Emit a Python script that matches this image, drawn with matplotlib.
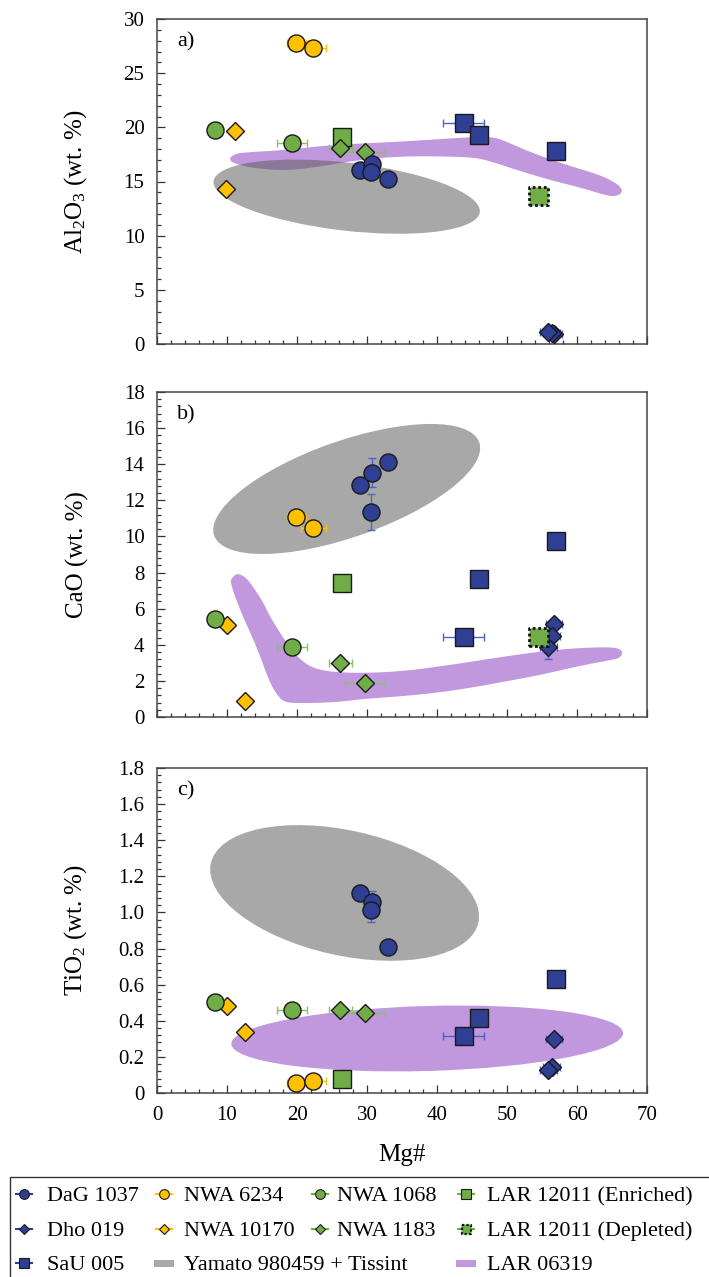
import numpy as np
import matplotlib
matplotlib.use("Agg")
import matplotlib.pyplot as plt
from matplotlib.patches import Ellipse, Polygon, Rectangle
from matplotlib.lines import Line2D
from matplotlib.transforms import ScaledTranslation
from matplotlib.ticker import MultipleLocator, FuncFormatter

plt.rcParams['font.family'] = ['Liberation Serif', 'DejaVu Serif']
plt.rcParams['mathtext.fontset'] = 'custom'
plt.rcParams['mathtext.rm'] = 'Liberation Serif'
plt.rcParams['mathtext.it'] = 'Liberation Serif:italic'
plt.rcParams['mathtext.bf'] = 'Liberation Serif:bold'

# ---------------- sample data: Mg# and oxides (wt. %) ----------------
dag_mg = [29.0, 30.7, 30.6, 33.0]
dag_al = [16.03, 16.58, 15.88, 15.23]
dag_ca = [12.83, 13.53, 11.35, 14.14]
dag_ti = [1.109, 1.056, 1.012, 0.81]
dag_ca_err = [0.0, 0.8, 1.0, 0.0]
dag_ti_err = [0.0, 0.065, 0.065, 0.0]

dho_mg = [56.7, 56.4, 55.9]
dho_mg_err = [1.2, 1.2, 1.2]
dho_al = [0.95, 1.05, 1.14]
dho_ca = [5.17, 4.48, 3.86]
dho_ti = [0.297, 0.146, 0.127]
dho_ca_err = [0.0, 0.0, 0.65]
dho_ti_err = [0.0, 0.03, 0.03]

sau_mg = [43.8, 46.0, 57.0]
sau_mg_err = [2.9, 0.0, 0.0]
sau_al = [20.37, 19.29, 17.85]
sau_ca = [4.45, 7.62, 9.75]
sau_ti = [0.316, 0.415, 0.63]

nwa6234_mg = [19.9, 22.3]
nwa6234_mg_err = [1.35, 1.8]
nwa6234_al = [27.75, 27.36]
nwa6234_ca = [11.06, 10.48]
nwa6234_ti = [0.057, 0.066]

nwa10170_mg_al = [11.1, 9.9]
nwa10170_al = [19.66, 14.28]
nwa10170_mg = [10.0, 12.6]
nwa10170_ca = [5.09, 0.90]
nwa10170_ti = [0.482, 0.34]

nwa1068_mg = [8.3, 19.3]
nwa1068_mg_err = [0.0, 2.1]
nwa1068_al = [19.75, 18.58]
nwa1068_ca = [5.43, 3.89]
nwa1068_ti = [0.504, 0.458]

nwa1183_mg = [26.2, 29.7]
nwa1183_mg_err = [1.6, 2.9]
nwa1183_al = [18.12, 17.75]
nwa1183_ca = [3.01, 1.86]
nwa1183_ti = [0.458, 0.441]

lar_enr_mg = [26.4]
lar_enr_al = [19.14]
lar_enr_ca = [7.44]
lar_enr_ti = [0.079]

lar_dep_mg = [54.5]
lar_dep_al = [13.63]
lar_dep_ca = [4.45]

# ---------------- compositional fields ----------------
# Yamato 980459 + Tissint: (centre Mg#, centre oxide, width px, height px, tilt deg)
yamato_al = (27.1, 13.6, 268, 68, -6.6)
yamato_ca = (27.1, 12.63, 281, 96, 19.4)
yamato_ti = (26.8, 1.108, 274, 125, -12.5)
# LAR 06319 in TiO2 space
lar06319_ti = (38.6, 0.302, 392, 65, 1.6)
# LAR 06319 outlines in Al2O3 and CaO space
lar06319_al_mg = [10.29, 10.9, 11.86, 18.53, 24.71, 34.71, 44.24, 48.04, 50.43, 53.76,
                  58.53, 63.29, 65.67, 66.53, 66.14, 64.71, 60.9, 56.14, 51.39, 47.1,
                  44.24, 34.71, 28.04, 23.29, 18.53, 13.76, 10.9]
lar06319_al_ox = [17.08, 17.45, 17.66, 17.91, 18.37, 18.67, 19.08, 19.14, 18.53, 17.60,
                  16.52, 15.60, 14.83, 14.22, 13.75, 13.60, 14.37, 15.14, 16.06, 16.99,
                  17.29, 17.35, 16.92, 16.37, 16.0, 16.22, 16.68]
lar06319_ca_mg = [10.71, 11.39, 12.29, 13.0, 13.71, 15.0, 16.14, 18.53, 20.43, 22.81,
                  27.57, 34.71, 41.86, 49.8, 54.9, 60.0, 64.5, 66.0, 66.6, 66.0, 65.0,
                  60.0, 54.9, 49.8, 44.7, 39.7, 34.6, 29.5, 25.1, 19.24, 18.0, 17.29,
                  16.14, 14.24, 11.86, 10.43]
lar06319_ca_ox = [7.70, 7.95, 7.83, 7.59, 7.21, 6.48, 5.55, 4.08, 3.16, 2.60,
                  2.42, 2.51, 2.88, 3.36, 3.63, 3.82, 3.87, 3.80, 3.55, 3.25, 3.17,
                  2.80, 2.34, 1.97, 1.61, 1.33, 1.14, 1.00, 0.80, 0.76, 0.89, 1.16,
                  1.87, 3.89, 5.92, 7.48]

# ---------------- styles ----------------
BLUE, YELLOW, GREEN = '#2F3F94', '#FFC000', '#70AD47'
BLUE_ERR, YELLOW_ERR, GREEN_ERR = '#5064C8', '#FFC000', '#86C266'
EDGE = '#1A1A1A'
GRAY_FILL, GRAY_ALPHA = '#5B5B5B', 0.525
GRAY_LEG = '#A9A9A9'
PURPLE = '#C197DD'
MS = {'o': 12.3, 's': 13.0, 'D': 9.0}

W, H = 709, 1277
fig = plt.figure(figsize=(W / 100, H / 100), dpi=100)
ax_left, ax_right = 157, 647
panel_tb = [(19, 344), (392, 717), (768, 1093)]
axes = [fig.add_axes([ax_left / W, 1 - b / H, (ax_right - ax_left) / W, (b - t) / H])
        for t, b in panel_tb]


def smooth(xs, ys, n=2):
    pts = np.column_stack([xs, ys]).astype(float)
    for _ in range(n):
        nxt = np.roll(pts, -1, axis=0)
        q = 0.75 * pts + 0.25 * nxt
        r = 0.25 * pts + 0.75 * nxt
        pts = np.empty((2 * len(q), 2))
        pts[0::2], pts[1::2] = q, r
    return pts


def field_ellipse(ax, spec, **kw):
    cx, cy, w, h, ang = spec
    trans = fig.dpi_scale_trans + ScaledTranslation(cx, cy, ax.transData)
    ax.add_patch(Ellipse((0, 0), w / fig.dpi, h / fig.dpi, angle=ang,
                         transform=trans, **kw))


def field_outline(ax, xs, ys, **kw):
    ax.add_patch(Polygon(smooth(xs, ys), closed=True, **kw))


def series(ax, x, y, marker, color, ecolor, xerr=None, yerr=None, z=5):
    if xerr is not None or yerr is not None:
        ax.errorbar(x, y, xerr=xerr, yerr=yerr, fmt='none', ecolor=ecolor,
                    elinewidth=1.0, capsize=2.8, capthick=1.0, zorder=z - 0.5)
    ax.plot(x, y, ls='none', marker=marker, ms=MS[marker], mfc=color, mec=EDGE,
            mew=1.0, zorder=z)


def depleted(ax, x, y, z=5):
    ax.scatter(x, y, marker='s', s=MS['s'] ** 2, c=GREEN, edgecolors='#111111',
               linewidths=2.0, linestyle=(0, (1, 1)), zorder=z)


ax_a, ax_b, ax_c = axes
for ax in axes:
    ax.set_xlim(0, 70)

ax_a.set_ylim(0, 30)
ax_b.set_ylim(0, 18)
ax_c.set_ylim(0, 1.8)

# fields
field_outline(ax_a, lar06319_al_mg, lar06319_al_ox, fc=PURPLE, ec='none', zorder=1)
field_ellipse(ax_a, yamato_al, fc=GRAY_FILL, ec='none', alpha=GRAY_ALPHA, zorder=2)
field_outline(ax_b, lar06319_ca_mg, lar06319_ca_ox, fc=PURPLE, ec='none', zorder=1)
field_ellipse(ax_b, yamato_ca, fc=GRAY_FILL, ec='none', alpha=GRAY_ALPHA, zorder=2)
field_ellipse(ax_c, lar06319_ti, fc=PURPLE, ec='none', zorder=1)
field_ellipse(ax_c, yamato_ti, fc=GRAY_FILL, ec='none', alpha=GRAY_ALPHA, zorder=2)

# panel a: Al2O3
series(ax_a, lar_enr_mg, lar_enr_al, 's', GREEN, GREEN_ERR)
series(ax_a, nwa10170_mg_al, nwa10170_al, 'D', YELLOW, YELLOW_ERR)
series(ax_a, nwa1068_mg, nwa1068_al, 'o', GREEN, GREEN_ERR, xerr=nwa1068_mg_err)
series(ax_a, nwa6234_mg, nwa6234_al, 'o', YELLOW, YELLOW_ERR, xerr=nwa6234_mg_err)
series(ax_a, nwa1183_mg, nwa1183_al, 'D', GREEN, GREEN_ERR, xerr=nwa1183_mg_err)
series(ax_a, sau_mg, sau_al, 's', BLUE, BLUE_ERR, xerr=sau_mg_err)
series(ax_a, dho_mg, dho_al, 'D', BLUE, BLUE_ERR, xerr=dho_mg_err)
series(ax_a, dag_mg, dag_al, 'o', BLUE, BLUE_ERR)
depleted(ax_a, lar_dep_mg, lar_dep_al)

# panel b: CaO
series(ax_b, lar_enr_mg, lar_enr_ca, 's', GREEN, GREEN_ERR)
series(ax_b, nwa10170_mg, nwa10170_ca, 'D', YELLOW, YELLOW_ERR)
series(ax_b, nwa1068_mg, nwa1068_ca, 'o', GREEN, GREEN_ERR, xerr=nwa1068_mg_err)
series(ax_b, nwa6234_mg, nwa6234_ca, 'o', YELLOW, YELLOW_ERR, xerr=nwa6234_mg_err)
series(ax_b, nwa1183_mg, nwa1183_ca, 'D', GREEN, GREEN_ERR, xerr=nwa1183_mg_err)
series(ax_b, sau_mg, sau_ca, 's', BLUE, BLUE_ERR, xerr=sau_mg_err)
series(ax_b, dho_mg, dho_ca, 'D', BLUE, BLUE_ERR, xerr=dho_mg_err, yerr=dho_ca_err)
series(ax_b, dag_mg, dag_ca, 'o', BLUE, BLUE_ERR, yerr=dag_ca_err)
depleted(ax_b, lar_dep_mg, lar_dep_ca)

# panel c: TiO2
series(ax_c, lar_enr_mg, lar_enr_ti, 's', GREEN, GREEN_ERR)
series(ax_c, nwa10170_mg, nwa10170_ti, 'D', YELLOW, YELLOW_ERR)
series(ax_c, nwa1068_mg, nwa1068_ti, 'o', GREEN, GREEN_ERR, xerr=nwa1068_mg_err)
series(ax_c, nwa6234_mg, nwa6234_ti, 'o', YELLOW, YELLOW_ERR, xerr=nwa6234_mg_err)
series(ax_c, nwa1183_mg, nwa1183_ti, 'D', GREEN, GREEN_ERR, xerr=nwa1183_mg_err)
series(ax_c, sau_mg, sau_ti, 's', BLUE, BLUE_ERR, xerr=sau_mg_err)
series(ax_c, dho_mg, dho_ti, 'D', BLUE, BLUE_ERR, xerr=dho_mg_err, yerr=dho_ti_err)
series(ax_c, dag_mg, dag_ti, 'o', BLUE, BLUE_ERR, yerr=dag_ti_err)

# axes cosmetics
y_major = [5, 2, 0.2]
y_minor = [1, 0.4, 0.04]
ylabels = ['Al$_2$O$_3$ (wt. %)', 'CaO (wt. %)', 'TiO$_2$ (wt. %)']
tags = ['a)', 'b)', 'c)']
for i, ax in enumerate(axes):
    ax.xaxis.set_major_locator(MultipleLocator(10))
    ax.xaxis.set_minor_locator(MultipleLocator(2))
    ax.yaxis.set_major_locator(MultipleLocator(y_major[i]))
    ax.yaxis.set_minor_locator(MultipleLocator(y_minor[i]))
    ax.tick_params(which='both', direction='in', top=False, right=False,
                   width=0.9, color='#333333', labelsize=15, pad=9)
    ax.tick_params(which='major', length=5.5)
    ax.tick_params(which='minor', length=3.2)
    for sp in ax.spines.values():
        sp.set_color('#454545')
        sp.set_linewidth(1.1)
    ax.set_ylabel(ylabels[i], fontsize=18)
    ax.yaxis.set_label_coords(-0.138, 0.5)
    ax.text(0.041, 0.958, tags[i], transform=ax.transAxes, fontsize=16,
            va='top', ha='left')
    if i < 2:
        ax.tick_params(labelbottom=False)

ax_c.yaxis.set_major_formatter(FuncFormatter(lambda v, p: '0' if abs(v) < 1e-9 else f'{v:.1f}'))
ax_c.set_xlabel('Mg#', fontsize=18, labelpad=14)

# ---------------- legend ----------------
def fx(px):
    return px / W


def fy(py):
    return 1 - py / H


fig.add_artist(Rectangle((fx(10), fy(1300)), fx(720), fy(1177) - fy(1300),
                         transform=fig.transFigure, fill=False, ec='#333333', lw=1.0))

legend_labels = ['DaG 1037', 'NWA 6234', 'NWA 1068', 'LAR 12011 (Enriched)',
                 'Dho 019', 'NWA 10170', 'NWA 1183', 'LAR 12011 (Depleted)',
                 'SaU 005', 'Yamato 980459 + Tissint', 'LAR 06319']
legend_kinds = [('o', BLUE), ('o', YELLOW), ('o', GREEN), ('s', GREEN),
                ('D', BLUE), ('D', YELLOW), ('D', GREEN), ('dep', GREEN),
                ('s', BLUE), ('patch', GRAY_LEG), ('patch', PURPLE)]
legend_cells = [(0, 0), (0, 1), (0, 2), (0, 3),
                (1, 0), (1, 1), (1, 2), (1, 3),
                (2, 0), (2, 1), (2, 3)]
row_y = [1194, 1229, 1263]
col_handle = [24, 164, 320, 466]
col_text = [47, 184, 337, 487]
leg_line = {BLUE: BLUE, YELLOW: YELLOW, GREEN: GREEN}
leg_ms = {'o': 7.0, 's': 7.0, 'D': 5.2}

for lab, (kind, col), (r, c) in zip(legend_labels, legend_kinds, legend_cells):
    yy = fy(row_y[r])
    xc = col_handle[c]
    if kind == 'patch':
        fig.add_artist(Rectangle((fx(xc - 10), fy(row_y[r] + 3.5)), fx(20),
                                 fy(row_y[r] - 3.5) - fy(row_y[r] + 3.5),
                                 transform=fig.transFigure, fc=col, ec='none'))
    else:
        fig.add_artist(Line2D([fx(xc - 8), fx(xc + 8)], [yy, yy], transform=fig.transFigure,
                              color=leg_line[col], lw=1.5))
        if kind == 'dep':
            fig.add_artist(Line2D([fx(xc)], [yy], transform=fig.transFigure, ls='none',
                                  marker='s', ms=7.0, mfc=col, mec='none'))
            fig.add_artist(Line2D([fx(xc - 4.5), fx(xc + 4.5), fx(xc + 4.5), fx(xc - 4.5), fx(xc - 4.5)],
                                  [fy(row_y[r] - 4.5), fy(row_y[r] - 4.5), fy(row_y[r] + 4.5),
                                   fy(row_y[r] + 4.5), fy(row_y[r] - 4.5)],
                                  transform=fig.transFigure, color='#111111', lw=1.6,
                                  ls=(0, (1, 1))))
        else:
            fig.add_artist(Line2D([fx(xc)], [yy], transform=fig.transFigure, ls='none',
                                  marker=kind, ms=leg_ms[kind], mfc=col, mec=EDGE, mew=0.8))
    fig.text(fx(col_text[c]), yy, lab, fontsize=16, va='center_baseline', ha='left')

fig.savefig('out.png', dpi=100)
